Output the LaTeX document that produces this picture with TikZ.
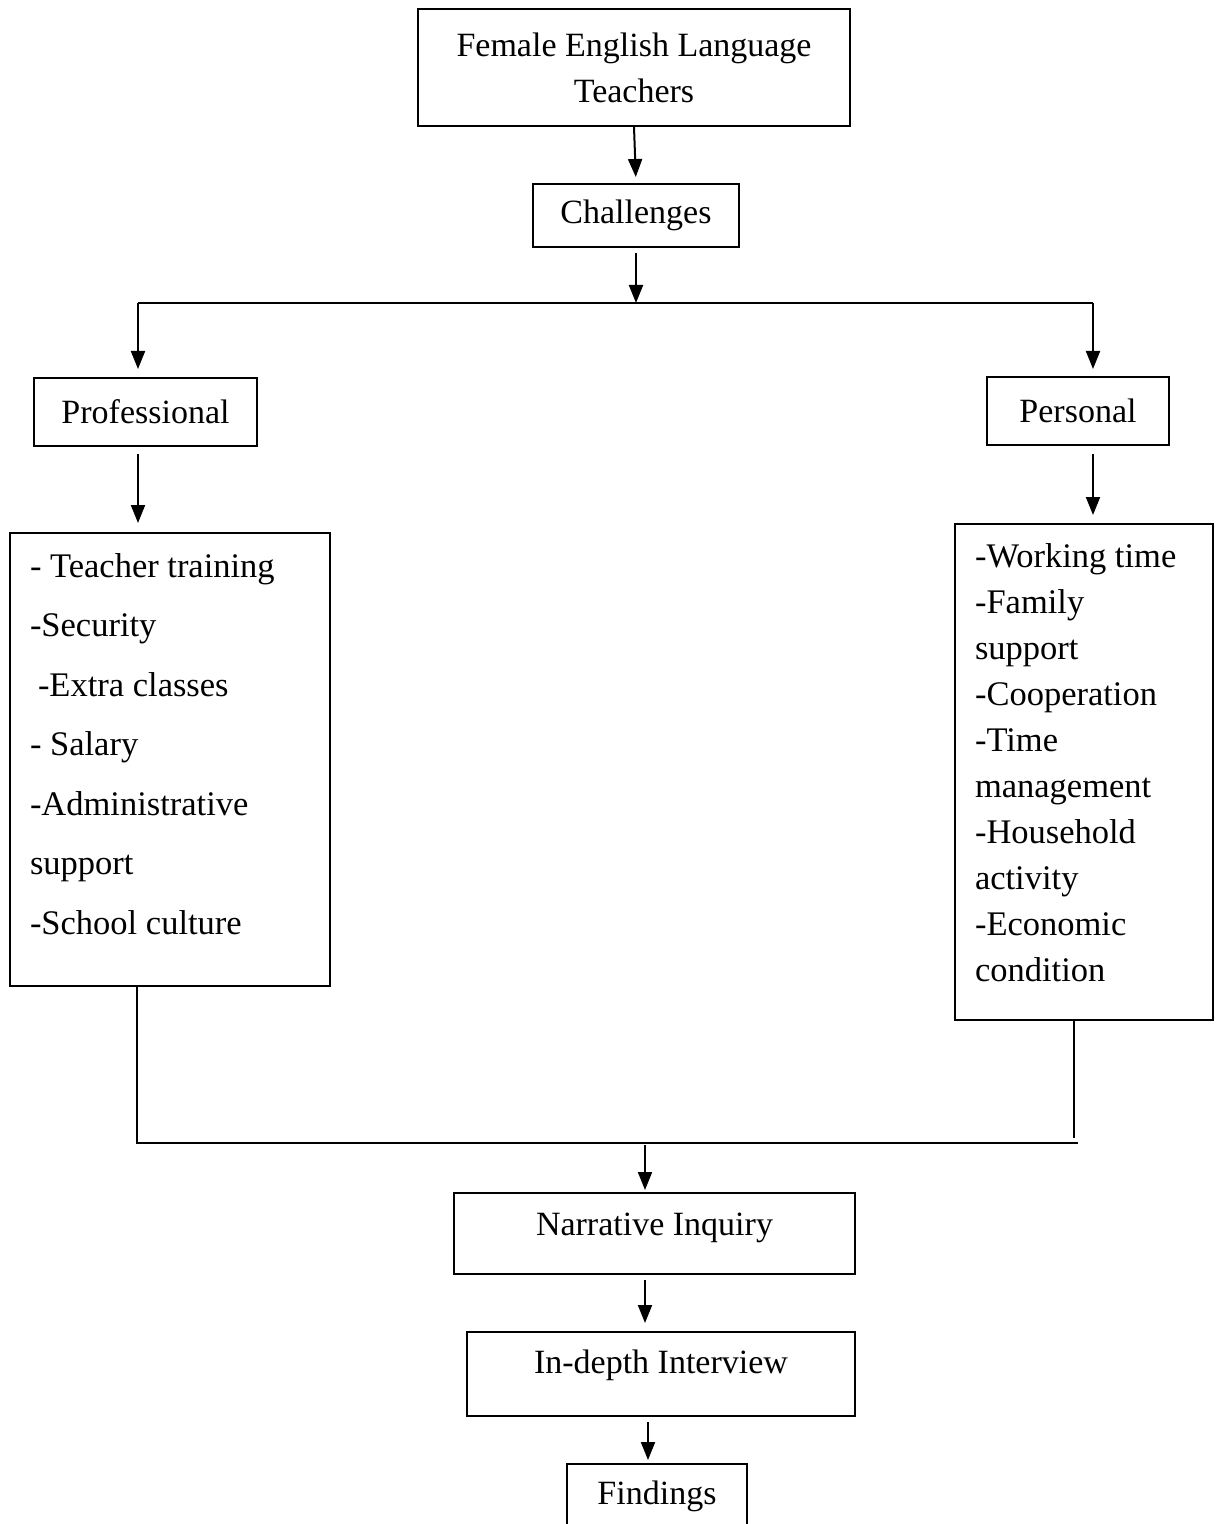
\documentclass[tikz,border=0pt]{standalone}
\usepackage{fontspec}
\setmainfont{Liberation Serif}
\usetikzlibrary{arrows.meta}
\tikzset{%
  box/.style={%
    rectangle,%
    draw,%
    line width=1pt,%
    inner sep=0pt,%
    align=center},
  list/.style={%
    rectangle,%
    draw,%
    line width=1pt,%
    inner xsep=10pt,%
    inner ysep=0pt,%
    align=flush left},
  link/.style={line width=1pt,-{Triangle[width=7pt,length=9pt]}},
  wire/.style={line width=1pt}
}

\begin{document}
\begin{tikzpicture}[x=0.5pt,y=-0.5pt,every
        node/.style={font=\fontsize{17pt}{23pt}\selectfont}]
        \useasboundingbox (0,0) rectangle (1219,1524);
        % boxes
        \node [box,minimum width=216pt,minimum height=58.5pt] (fel) at (634,67.5) {%
          Female English Language\\Teachers};
        \node [box,minimum width=103pt,minimum height=31.5pt] (chal) at (636,215.5) {Challenges};
        \node [box,minimum width=111.5pt,minimum height=34pt] (prof) at (145.5,412) {Professional};
        \node [box,minimum width=91pt,minimum height=34pt] (pers) at (1078,411) {Personal};
        \node [list,text width=140pt,text height=22pt,text depth=204.5pt,%
          font=\fontsize{17.25pt}{29.75pt}\selectfont] (plist) at (170,532) [anchor=north] {%
          - Teacher training\\
          -Security\\
          \hspace*{4pt}-Extra classes\\
          - Salary\\
          -Administrative\\
          support\\
          -School culture};
        \node [list,text width=109pt,text height=21.5pt,text depth=226.5pt,%
          font=\fontsize{17.25pt}{23pt}\selectfont] (rlist) at (1084,523) [anchor=north] {%
          -Working time\\
          -Family\\
          support\\
          -Cooperation\\
          -Time\\
          management\\
          -Household\\
          activity\\
          -Economic\\
          condition};
        \node [box,minimum width=200.5pt,text height=21pt,text depth=19.5pt] (nar) at (654.5,1192) [anchor=north] {Narrative Inquiry};
        \node [box,minimum width=194pt,text height=20.5pt,text depth=21.5pt] (int) at (661,1331) [anchor=north] {In-depth Interview};
        \node [box,minimum width=90pt,text height=20pt,text depth=23pt] (find) at (657,1463) [anchor=north] {Findings};
        % branch points
        \coordinate (split) at (636,303);
        \coordinate (lft) at (138,303);
        \coordinate (rgt) at (1093,303);
        \coordinate (jl) at (137,1143);
        \coordinate (jn) at (645,1143);
        \coordinate (jright) at (1078,1143);
        \coordinate (jr) at (1074,1138);
        % connectors
        \draw [link,shorten >=3pt] (fel.south) -- (chal.north);
        \draw [link,shorten <=2.5pt] (chal.south) -- (split);
        \draw [wire] (lft) -- (rgt);
        \draw [link,shorten >=4pt] (lft) -- (lft |- prof.north);
        \draw [link,shorten >=3.5pt] (rgt) -- (rgt |- pers.north);
        \draw [link,shorten <=3.5pt,shorten >=4.5pt] (prof.south -| lft) -- (lft |- plist.north);
        \draw [link,shorten <=4pt,shorten >=4pt] (pers.south -| rgt) -- (rgt |- rlist.north);
        \draw [wire] (plist.south -| jl) -- (jl) -- (jright);
        \draw [wire] (rlist.south -| jr) -- (jr);
        \draw [link,shorten <=1pt,shorten >=1pt] (jn) -- (nar.north -| jn);
        \draw [link,shorten <=2.5pt,shorten >=4pt] (nar.south -| jn) -- (jn |- int.north);
        \draw [link,shorten <=2.5pt,shorten >=1.5pt] ([xshift=-6.5pt]int.south) -- ([xshift=-4.5pt]find.north);
      \end{tikzpicture}
\end{document}
